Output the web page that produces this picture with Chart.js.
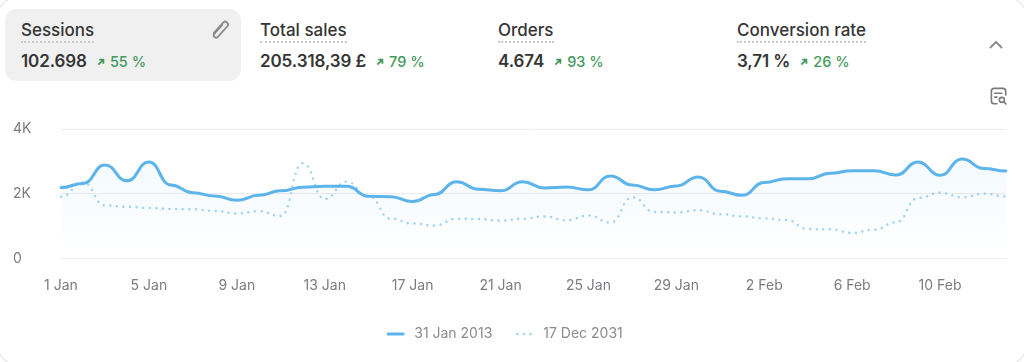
<!DOCTYPE html>
<html>
<head>
<meta charset="utf-8">
<script src="https://cdn.jsdelivr.net/npm/chart.js@4"></script>
<style>
html,body{margin:0;padding:0;background:#fff;width:1024px;height:362px;overflow:hidden;font-family:Inter,sans-serif;color:#353535}
#wrap{position:relative;width:1024px;height:362px;overflow:hidden}
canvas{position:absolute;left:0;top:0}
.edge{position:absolute;left:-3px;top:-3px;width:1028px;height:366px;border:1px solid #dcdcdc;border-radius:20px}
.sel{position:absolute;left:5px;top:9px;width:236px;height:72px;border-radius:12px;background:#f0f0f0}
.m{position:absolute;top:20px;white-space:nowrap}
.t{display:inline-block;font-size:17px;font-weight:500;line-height:21px;padding-bottom:0;border-bottom:2px dotted #cbcbcb}
.v{margin-top:8px;font-size:17px;font-weight:600;line-height:21px;display:flex;align-items:center;letter-spacing:-.1px}
.d{display:flex;align-items:center;margin-left:10px;font-size:14.500px;font-weight:500;color:#439a5c;letter-spacing:0}
.d svg{margin-right:5px}
svg.i{position:absolute}
</style>
</head>
<body>
<div id="wrap">
<div class="edge"></div>
<div class="sel"></div>
<div id="metrics"></div>
<svg class="i" style="left:210px;top:19px" width="21" height="21" viewBox="0 0 20 20" fill="none" stroke="#8a8a8a" stroke-width="1.700" stroke-linecap="round" stroke-linejoin="round"><path d="M3.500 13.500 12.500 3.500a2.600 2.600 0 0 1 4 3.400L7.500 17a2.200 2.200 0 0 1-3.400-2.900l7.600-8.500"/></svg>
<svg class="i" style="left:988px;top:38px" width="16" height="14" viewBox="0 0 16 14" fill="none" stroke="#8a8a8a" stroke-width="1.800" stroke-linecap="round" stroke-linejoin="round"><path d="M2.500 9.500 8 4l5.500 5.500"/></svg>
<svg class="i" style="left:987px;top:85px" width="22" height="22" viewBox="0 0 20 20" fill="none" stroke="#7a7a7a" stroke-width="1.500" stroke-linecap="round" stroke-linejoin="round"><path d="M9 17H6.500A2.500 2.500 0 0 1 4 14.500V5.500A2.500 2.500 0 0 1 6.500 3h8A2.500 2.500 0 0 1 17 5.500V9"/><path d="M7 7.500h6.500M7 11H9"/><circle cx="13.500" cy="13.500" r="2.300"/><path d="m15.300 15.300 2 2"/></svg>
<canvas id="c" width="1024" height="362"></canvas>
</div>
<script>
const categories = ["1 Jan","2 Jan","3 Jan","4 Jan","5 Jan","6 Jan","7 Jan","8 Jan","9 Jan","10 Jan","11 Jan","12 Jan","13 Jan","14 Jan","15 Jan","16 Jan","17 Jan","18 Jan","19 Jan","20 Jan","21 Jan","22 Jan","23 Jan","24 Jan","25 Jan","26 Jan","27 Jan","28 Jan","29 Jan","30 Jan","31 Jan","1 Feb","2 Feb","3 Feb","4 Feb","5 Feb","6 Feb","7 Feb","8 Feb","9 Feb","10 Feb","11 Feb","12 Feb","13 Feb"];
const currentValues = [2190,2320,2890,2400,2980,2270,2030,1930,1800,1950,2090,2200,2230,2230,1920,1910,1760,1980,2370,2140,2090,2370,2180,2210,2120,2550,2270,2120,2240,2520,2080,1950,2350,2460,2460,2630,2710,2710,2580,2980,2570,3070,2780,2700];
const previousValues = [1910,2350,1640,1600,1560,1530,1520,1470,1390,1460,1310,2940,1840,2370,1920,1230,1080,1020,1230,1220,1170,1230,1300,1180,1330,1110,1890,1440,1420,1490,1370,1300,1240,1190,910,900,790,890,1120,1870,2030,1890,2000,1920];
const seriesNames = ["31 Jan 2013","17 Dec 2031"];
const yTicks = [0,2000,4000];
const metricNames = ["Sessions","Total sales","Orders","Conversion rate"];
const metricValues = ["102.698","205.318,39 £","4.674","3,71 %"];
const metricDeltas = ["55 %","79 %","93 %","26 %"];
const metricLeft = [21,260,498,737];

const arrow = '<svg width="8" height="8" viewBox="0 0 9 9" fill="none" stroke="#439a5c" stroke-width="2"><path d="M1.500 7.500 7 2M2.500 1.800H7.200V6.500"/></svg>';
document.getElementById('metrics').innerHTML = metricNames.map((n,i)=>
 `<div class="m" style="left:${metricLeft[i]}px"><span class="t">${n}</span><div class="v">${metricValues[i]}<span class="d">${arrow}${metricDeltas[i]}</span></div></div>`).join('');

const BLUE = '#5db4ea';
const LIGHT = '#a5d5f3';

function legendMarker(color,width,dash){
  const m=document.createElement('canvas');m.width=20;m.height=8;
  const x=m.getContext('2d');x.strokeStyle=color;x.lineWidth=width;x.lineCap='round';x.setLineDash(dash);
  x.beginPath();x.moveTo(1,4);x.lineTo(16,4);x.stroke();
  return m;
}
const legendMarkers=[legendMarker(BLUE,3,[]),legendMarker(LIGHT,2.500,[0.1,6.500])];

// Horizontal tangent at each point, as in a bump curve: the reference has flat shoulders at every day.
const bumpCurve={id:'bumpCurve',
  afterLayout(chart){chart.legend.left-=4.500;chart.legend.right-=4.500;},
  afterDatasetsUpdate(chart){
  chart.data.datasets.forEach((d,n)=>{
    const meta=chart.getDatasetMeta(n);
    meta.dataset.updateControlPoints(chart.chartArea);
    const pts=meta.data;
    for(let i=1;i<pts.length;i++){
      const a=pts[i-1],b=pts[i],mx=(a.x+b.x)/2;
      a.cp2x=mx;a.cp2y=a.y;b.cp1x=mx;b.cp1y=b.y;
    }
  });
}};

new Chart(document.getElementById('c'), {
  type:'line',
  plugins:[bumpCurve],
  data:{labels:categories,datasets:[
    {label:seriesNames[0],data:currentValues,borderColor:BLUE,borderWidth:3,pointRadius:0,tension:0.4,fill:'origin',borderCapStyle:'round',
     backgroundColor(ctx){const a=ctx.chart.chartArea;if(!a)return 'transparent';const g=ctx.chart.ctx.createLinearGradient(0,a.top+20,0,a.bottom);g.addColorStop(0,'rgba(93,180,234,0.08)');g.addColorStop(1,'rgba(93,180,234,0)');return g;}},
    {label:seriesNames[1],data:previousValues,borderColor:LIGHT,borderWidth:2.500,borderDash:[0.1,6.500],borderCapStyle:'round',pointRadius:0,tension:0.4,fill:false}
  ]},
  options:{
    responsive:false,animation:false,devicePixelRatio:1,
    layout:{padding:{left:13,right:18,top:129,bottom:11}},
    plugins:{tooltip:{enabled:false},
      legend:{position:'bottom',labels:{usePointStyle:true,pointStyleWidth:20,boxHeight:8,padding:24,color:'#8a8a92',font:{family:'Inter',size:14},
        generateLabels(chart){return Chart.defaults.plugins.legend.labels.generateLabels(chart).map((l,i)=>Object.assign(l,{pointStyle:legendMarkers[i]}));}}}},
    scales:{
      x:{grid:{display:false},border:{display:false},
        afterFit(s){s.height=44.500;},
        ticks:{autoSkip:false,maxRotation:0,padding:10.500,color:'#7b7b80',font:{family:'Inter',size:14},callback(v,i){return i%4===0?categories[i]:'';}}},
      y:{min:0,max:4000,
        afterFit(s){s.width=48;},
        afterBuildTicks(s){s.ticks=yTicks.map(value=>({value}));},
        grid:{color:'#ececee',lineWidth:1,drawTicks:false},border:{display:false},
        ticks:{crossAlign:'far',padding:0,color:'#7b7b80',font:{family:'Inter',size:14},callback(v){return v===0?'0':(v/1000)+'K';}}}
    }
  }
});
</script>
</body>
</html>
